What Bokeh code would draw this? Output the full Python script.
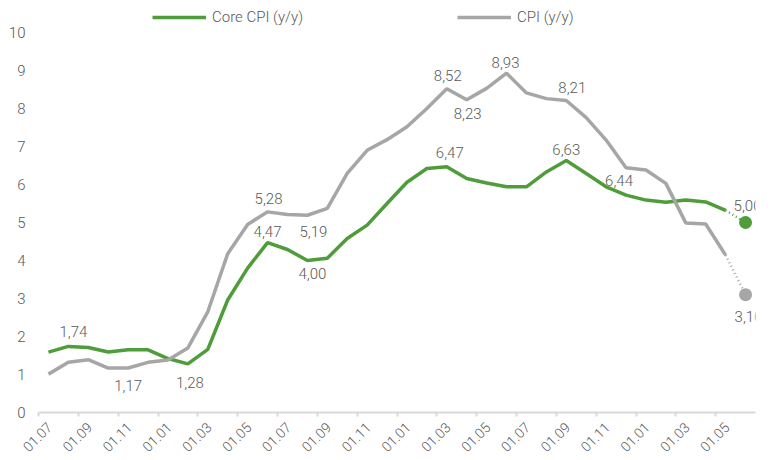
import math
from bokeh.plotting import figure
from bokeh.models import (ColumnDataSource, Range1d, FixedTicker, Legend,
                          LegendItem, LabelSet, CustomJSTickFormatter)
from bokeh.embed import file_html
from bokeh.resources import INLINE
from bokeh.core.properties import value

# ---------------- data ----------------
tick_labels = ["01.07", "01.09", "01.11", "01.01", "01.03", "01.05",
               "01.07", "01.09", "01.11", "01.01", "01.03", "01.05",
               "01.07", "01.09", "01.11", "01.01", "01.03", "01.05"]

core_cpi = [1.59, 1.74, 1.71, 1.59, 1.65, 1.65, 1.42, 1.28, 1.66, 2.96,
            3.80, 4.47, 4.29, 4.00, 4.06, 4.58, 4.93, 5.50, 6.06, 6.42,
            6.47, 6.16, 6.04, 5.94, 5.94, 6.33, 6.63, 6.29, 5.94, 5.72,
            5.59, 5.53, 5.59, 5.54, 5.32]
cpi = [1.01, 1.32, 1.39, 1.17, 1.17, 1.32, 1.38, 1.70, 2.65, 4.18,
       4.95, 5.28, 5.21, 5.19, 5.37, 6.29, 6.90, 7.18, 7.52, 8.00,
       8.52, 8.23, 8.53, 8.93, 8.41, 8.26, 8.21, 7.76, 7.17, 6.44,
       6.38, 6.03, 4.99, 4.96, 4.14]
core_forecast = 5.00
cpi_forecast = 3.10

# which points carry a value label
core_label_idx = [1, 7, 11, 13, 20, 26, 35]
cpi_label_idx = [4, 11, 13, 20, 21, 23, 26, 29, 35]

# ---------------- style ----------------
GREEN = "#4E9D3A"
GREY = "#A6A6A6"
TEXT = "#595959"
AXIS = "#D9D9D9"
FONT = "Roboto Light, Roboto"

# label offsets (screen px, dx right, dy up)
core_label_off = [(5, 15), (2, -19), (0, 11), (5, -13), (3, 14), (0, 11), (2, 17)]
cpi_label_off = [(0, -17), (1, 13), (6, -16), (1, 13), (1, -14), (-1, 11),
                 (6, 13), (-7, -13), (3, -22)]

LABEL_SHIFT = 0.55   # x-tick labels sit slightly right of their tick marks

n = len(core_cpi)
xs = [i + 0.5 for i in range(n)]
xf = n + 0.5

Y_TOP = 10 + 32 / 38.0   # room for the legend inside the frame

p = figure(width=762, height=460, x_range=Range1d(0, n + 1),
           y_range=Range1d(0, Y_TOP), output_backend="svg",
           toolbar_location=None, min_border_left=38, min_border_right=7,
           min_border_top=0, min_border_bottom=48)
p.outline_line_color = None
p.xgrid.visible = False
p.ygrid.visible = False

core_line = p.line(xs, core_cpi, line_color=GREEN, line_width=3.5)
cpi_line = p.line(xs, cpi, line_color=GREY, line_width=3.5)
p.line([xs[-1], xf], [core_cpi[-1], core_forecast], line_color=GREEN,
       line_width=2.5, line_dash="1 3")
p.line([xs[-1], xf], [cpi[-1], cpi_forecast], line_color=GREY,
       line_width=2.5, line_dash="1 3")
p.scatter([xf], [core_forecast], size=13, fill_color=GREEN, line_color=None)
p.scatter([xf], [cpi_forecast], size=13, fill_color=GREY, line_color=None)


def fmt(v):
    return f"{v:.2f}".replace(".", ",")


def label_source(series, forecast, idx, offs):
    full = list(series) + [forecast]
    xx = [i + 0.5 for i in idx]
    yy = [full[i] for i in idx]
    return ColumnDataSource(dict(x=xx, y=yy, t=[fmt(v) for v in yy],
                                 dx=[o[0] for o in offs],
                                 dy=[o[1] for o in offs]))


for src in (label_source(core_cpi, core_forecast, core_label_idx, core_label_off),
            label_source(cpi, cpi_forecast, cpi_label_idx, cpi_label_off)):
    p.add_layout(LabelSet(x="x", y="y", text="t", source=src,
                          x_offset="dx", y_offset="dy",
                          text_align="center", text_baseline="middle",
                          text_font=value(FONT), text_font_size="15px",
                          text_color=TEXT))

# x axis: tick marks (as minor ticks) at month boundaries, labels shifted right
tick_pos = [2 * k for k in range(len(tick_labels))]
xa = p.xaxis[0]
xa.ticker = FixedTicker(ticks=[t + LABEL_SHIFT for t in tick_pos],
                        minor_ticks=tick_pos)
xa.formatter = CustomJSTickFormatter(
    args=dict(labels=tick_labels, shift=LABEL_SHIFT),
    code="return labels[Math.round((tick - shift) / 2)];")
xa.axis_line_color = AXIS
xa.axis_line_width = 2
xa.major_tick_line_color = None
xa.major_tick_out = 0
xa.major_tick_in = 0
xa.minor_tick_line_color = AXIS
xa.minor_tick_line_width = 2
xa.minor_tick_out = 4
xa.minor_tick_in = 0
xa.major_label_standoff = 8
xa.major_label_orientation = math.pi / 4
xa.major_label_text_font = FONT
xa.major_label_text_font_size = "14px"
xa.major_label_text_color = TEXT

ya = p.yaxis[0]
ya.ticker = FixedTicker(ticks=list(range(0, 11)))
ya.axis_line_color = None
ya.major_tick_line_color = None
ya.minor_tick_line_color = None
ya.major_tick_out = 0
ya.major_tick_in = 0
ya.major_label_standoff = 13
ya.major_label_text_font = FONT
ya.major_label_text_font_size = "15px"
ya.major_label_text_color = TEXT

# legends (inside the frame, above the 10 line)
for rend, lab, xloc in ((core_line, "Core CPI (y/y)", 114),
                        (cpi_line, "CPI (y/y)", 419)):
    lg = Legend(items=[LegendItem(label=lab, renderers=[rend])],
                location=(xloc, 385), orientation="horizontal",
                glyph_width=54, glyph_height=20, label_height=20,
                label_standoff=6, padding=0, margin=0,
                border_line_color=None, background_fill_alpha=0,
                label_text_font=FONT, label_text_font_size="15px",
                label_text_color=TEXT)
    p.add_layout(lg, "center")

open("out.html", "w").write(file_html(p, INLINE))
